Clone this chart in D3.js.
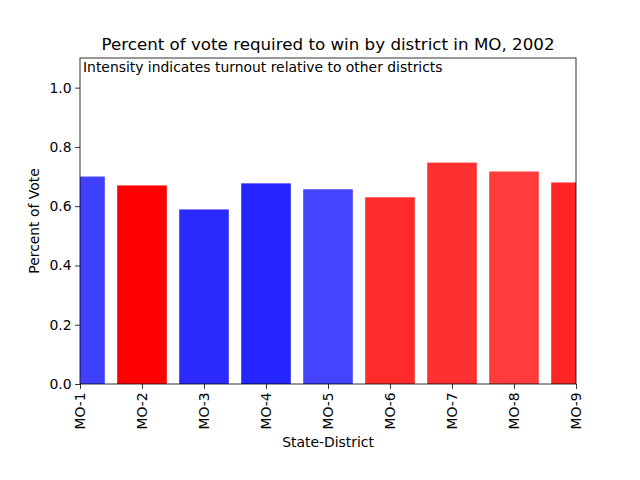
<!DOCTYPE html>
<html>
<head>
<meta charset="utf-8">
<script src="https://cdn.jsdelivr.net/npm/d3@7"></script>
<style>
  body { margin: 0; background: #fff; }
  text { font-family: "DejaVu Sans", sans-serif; }
</style>
</head>
<body>
<div id="chart"></div>
<script>
// 数据
const districts = ["MO-1", "MO-2", "MO-3", "MO-4", "MO-5", "MO-6", "MO-7", "MO-8", "MO-9"];
const votePct = [0.700, 0.670, 0.589, 0.677, 0.657, 0.630, 0.747, 0.717, 0.680];
const party = ["D", "R", "D", "D", "D", "R", "R", "R", "R"];
const intensity = [0.75, 1.0, 0.835, 0.855, 0.733, 0.835, 0.81, 0.765, 0.855];
const yTicks = [0.0, 0.2, 0.4, 0.6, 0.8, 1.0];

const width = 640, height = 480;
const margin = { top: 58, right: 64, bottom: 96, left: 80 };
const innerWidth = width - margin.left - margin.right;
const innerHeight = height - margin.top - margin.bottom;

const svg = d3.select("#chart").append("svg")
    .attr("width", width)
    .attr("height", height);

const defs = svg.append("defs");
defs.append("clipPath").attr("id", "plotClip")
    .append("rect").attr("width", innerWidth).attr("height", innerHeight);

const chart = svg.append("g")
    .attr("transform", `translate(${margin.left},${margin.top})`);

// 比例尺: x 为数值位置 0..8，柱宽 0.8
const xScale = d3.scaleLinear().domain([0, districts.length - 1]).range([0, innerWidth]);
const yScale = d3.scaleLinear().domain([0, 1.1]).range([innerHeight, 0]);
const barW = xScale(0.8) - xScale(0);

const baseColor = { D: [0, 0, 255], R: [255, 0, 0] };
const mixColor = (p, a) => {
    const c = baseColor[p].map(v => Math.round(255 + (v - 255) * a));
    return `rgb(${c[0]},${c[1]},${c[2]})`;
};

const bars = districts.map((d, i) => ({ d, i, v: votePct[i], p: party[i], a: intensity[i] }));

chart.append("g").attr("clip-path", "url(#plotClip)")
    .selectAll("rect")
    .data(bars)
    .enter()
    .append("rect")
    .attr("x", b => xScale(b.i) - barW / 2)
    .attr("y", b => yScale(b.v))
    .attr("width", barW)
    .attr("height", b => yScale(0) - yScale(b.v))
    .attr("fill", b => mixColor(b.p, b.a));

// 坐标轴
const yAxis = chart.append("g")
    .call(d3.axisLeft(yScale).tickValues(yTicks).tickFormat(d3.format(".1f")).tickSize(4.9).tickPadding(3.5));
const xAxis = chart.append("g")
    .attr("transform", `translate(0,${innerHeight})`)
    .call(d3.axisBottom(xScale).tickValues(d3.range(districts.length)).tickFormat(i => districts[i]).tickSize(4.9).tickPadding(3.5));

[xAxis, yAxis].forEach(ax => {
    ax.select(".domain").remove();
    ax.selectAll("line").attr("stroke", "#000").attr("stroke-width", 0.8);
    ax.selectAll("text").style("font-size", "13.9px").attr("fill", "#000");
});

xAxis.selectAll("text")
    .attr("transform", "rotate(-90)")
    .attr("text-anchor", "end")
    .attr("x", -8.4)
    .attr("y", 0)
    .attr("dy", "0.35em");

// 边框
chart.append("rect")
    .attr("width", innerWidth).attr("height", innerHeight)
    .attr("fill", "none").attr("stroke", "#000").attr("stroke-width", 0.8);

// 标题与标签
svg.append("text")
    .attr("x", margin.left + innerWidth / 2)
    .attr("y", margin.top - 8)
    .attr("text-anchor", "middle")
    .style("font-size", "16.7px")
    .text("Percent of vote required to win by district in MO, 2002");

chart.append("text")
    .attr("x", 3)
    .attr("y", 14)
    .style("font-size", "13.9px")
    .text("Intensity indicates turnout relative to other districts");

svg.append("text")
    .attr("x", margin.left + innerWidth / 2)
    .attr("y", 447)
    .attr("text-anchor", "middle")
    .style("font-size", "13.9px")
    .text("State-District");

svg.append("text")
    .attr("transform", `translate(39,${margin.top + innerHeight / 2}) rotate(-90)`)
    .attr("text-anchor", "middle")
    .style("font-size", "13.9px")
    .text("Percent of Vote");
</script>
</body>
</html>
